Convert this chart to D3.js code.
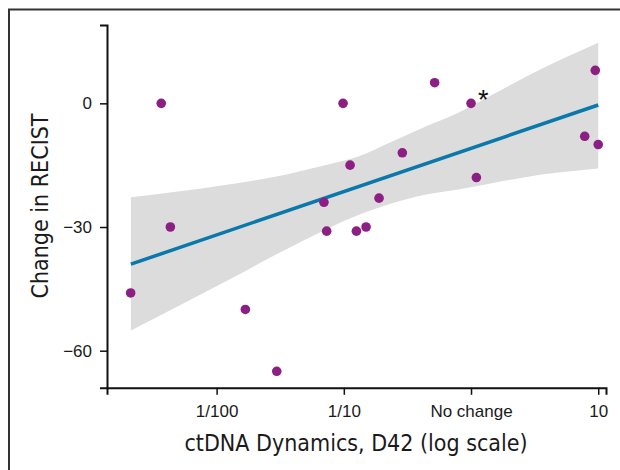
<!DOCTYPE html>
<html>
<head>
<meta charset="utf-8">
<script src="https://cdn.jsdelivr.net/npm/d3@7"></script>
<style>
  body { margin: 0; background: #fff; }
  .tick text { font-family: "Liberation Sans", Arial, sans-serif; font-size: 17px; fill: #1a1a1a; }
  .axis-title { font-family: "Liberation Sans Narrow", "DejaVu Sans Condensed", sans-serif; font-size: 23px; fill: #1a1a1a; }
</style>
</head>
<body>
<div id="chart"></div>
<script>
// ctDNA ratio at D42 (relative to baseline) and change in RECIST
const ratio  = [0.00211, 0.00367, 0.00433, 0.01683, 0.0297, 0.0698, 0.0733, 0.0986, 0.112, 0.1256,
                0.1496, 0.1892, 0.2884, 0.5176, 1.0, 1.102, 7.83, 9.48, 10.0]
const recist = [-46, 0, -30, -50, -65, -24, -31, 0, -15, -31,
                -30, -23, -12, 5, 0, -18, -8, 8, -10]
const starPoint = 14

// fitted line and its confidence band
const fitX = [0.00212, 10]
const fitY = [-39.0, -0.4]
const bandX     = [0.00212, 0.01164, 0.0288, 0.0711, 0.130, 0.238, 0.435, 0.794, 1.455, 2.66, 4.85, 10]
const bandUpper = [-22.8, -19.8, -17.8, -15.0, -12.9, -9.3, -5.7, -2.3, 2.0, 6.3, 10.3, 14.7]
const bandLower = [-55.1, -43.3, -36.8, -30.7, -27.1, -24.3, -22.2, -20.9, -19.4, -17.9, -16.8, -15.8]

const xTicks = [0.01, 0.1, 1, 10]
const xTickLabels = ["1/100", "1/10", "No change", "10"]
const yTicks = [0, -30, -60]

const svgWidth = 620
const svgHeight = 470

let svg = d3.select("#chart")
  .append("svg")
  .attr("width", svgWidth)
  .attr("height", svgHeight)

// frame round the figure (runs off the right and bottom edges)
svg.append("rect")
  .attr("x", 9)
  .attr("y", 9.5)
  .attr("width", 700)
  .attr("height", 600)
  .attr("fill", "none")
  .attr("stroke", "#333")
  .attr("stroke-width", 2)

let x = d3.scaleLog()
  .domain([0.001375, 11.51])
  .range([107, 606])

let y = d3.scaleLinear()
  .domain([-69, 19])
  .range([387.8, 25])

// confidence band
let band = bandX.map((d, i) => ({ x: d, lo: bandLower[i], hi: bandUpper[i] }))
svg.append("path")
  .datum(band)
  .attr("fill", "#dcdcdc")
  .attr("d", d3.area()
    .x(d => x(d.x))
    .y0(d => y(d.lo))
    .y1(d => y(d.hi))
    .curve(d3.curveMonotoneX))

// regression line
svg.append("path")
  .datum(fitX.map((d, i) => [d, fitY[i]]))
  .attr("fill", "none")
  .attr("stroke", "#0a78aa")
  .attr("stroke-width", 3.5)
  .attr("d", d3.line().x(d => x(d[0])).y(d => y(d[1])))

// points
svg.append("g")
  .selectAll("circle")
  .data(ratio.map((d, i) => ({ r: d, v: recist[i] })))
  .enter()
  .append("circle")
  .attr("cx", d => x(d.r))
  .attr("cy", d => y(d.v))
  .attr("r", 4.8)
  .attr("fill", "#8c1f84")

svg.append("text")
  .attr("x", x(ratio[starPoint]) + 7)
  .attr("y", y(recist[starPoint]) + 6)
  .style("font-family", "Liberation Sans, Arial, sans-serif")
  .style("font-size", "27px")
  .attr("fill", "#111")
  .text("*")

// axes
let xAxis = svg.append("g")
  .attr("transform", `translate(0, ${y.range()[0]})`)
  .call(d3.axisBottom(x)
    .tickValues(xTicks)
    .tickFormat((d, i) => xTickLabels[i])
    .tickSizeOuter(0)
    .tickSize(7)
    .tickPadding(10))

let yAxis = svg.append("g")
  .attr("transform", `translate(${x.range()[0]}, 0)`)
  .call(d3.axisLeft(y)
    .tickValues(yTicks)
    .tickSizeOuter(0)
    .tickSize(7)
    .tickPadding(8))

svg.selectAll(".domain").attr("stroke", "#111").attr("stroke-width", 2)
svg.selectAll(".tick line").attr("stroke", "#111").attr("stroke-width", 1.5)

svg.append("text")
  .attr("class", "axis-title")
  .attr("x", 356)
  .attr("y", 451)
  .attr("text-anchor", "middle")
  .text("ctDNA Dynamics, D42 (log scale)")

svg.append("text")
  .attr("class", "axis-title")
  .attr("transform", `translate(48, ${206})rotate(-90)`)
  .attr("text-anchor", "middle")
  .text("Change in RECIST")
</script>
</body>
</html>
